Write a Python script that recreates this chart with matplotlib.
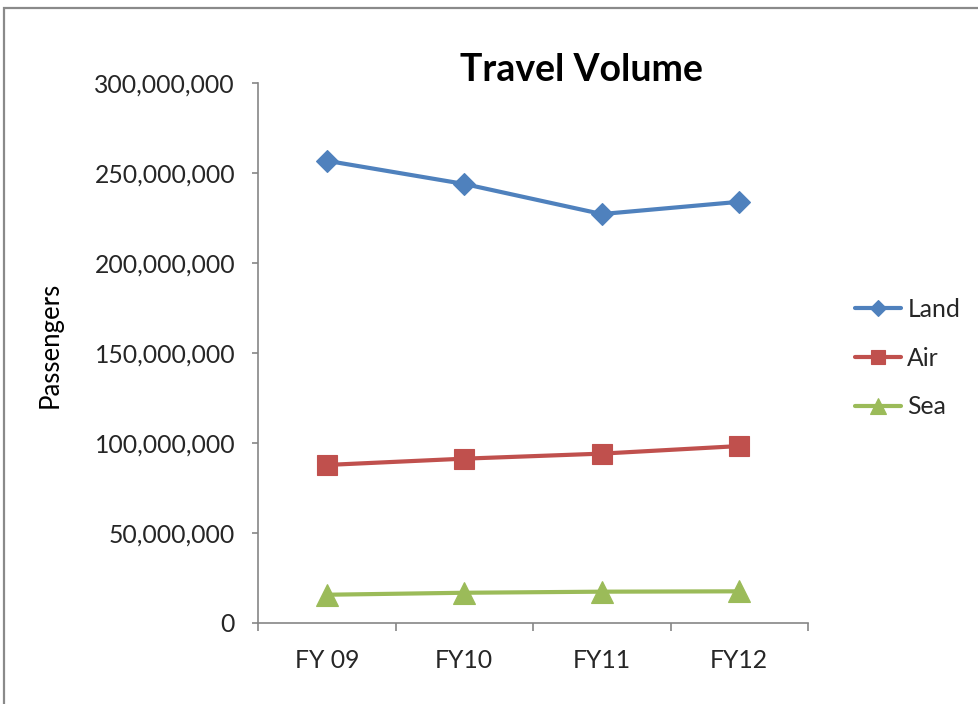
import matplotlib
matplotlib.use("Agg")
import matplotlib.pyplot as plt
from matplotlib.patches import Rectangle
from matplotlib.ticker import FuncFormatter, FixedLocator

plt.rcParams['font.family'] = ['Lato', 'DejaVu Sans']

# Passenger volumes by fiscal year
categories = ["FY 09", "FY10", "FY11", "FY12"]
land = [256_800_000, 243_900_000, 227_200_000, 234_000_000]
air = [87_800_000, 91_300_000, 94_100_000, 98_300_000]
sea = [15_700_000, 16_800_000, 17_400_000, 17_600_000]
series_names = ["Land", "Air", "Sea"]

W, H, DPI = 979, 704, 100
fig = plt.figure(figsize=(W / DPI, H / DPI), dpi=DPI)
fig.patch.set_facecolor("white")

# outer chart-area frame (right/bottom edges run off the canvas)
frame = Rectangle((4 / W, 0 - 20 / H), 1.1, (H - 8 + 20) / H,
                  transform=fig.transFigure, fill=False,
                  edgecolor="#8a8a8a", linewidth=1.6)
fig.patches.append(frame)

left, right, top, bottom = 258, 808, 83, 623
ax = fig.add_axes([left / W, 1 - bottom / H, (right - left) / W, (bottom - top) / H])

x = list(range(len(categories)))
styles = [
    (land, "#4F81BD", "D", 11),
    (air, "#C0504D", "s", 14.5),
    (sea, "#9BBB59", "^", 15.5),
]
for (vals, color, marker, ms), name in zip(styles, series_names):
    ax.plot(x, vals, color=color, linewidth=3.0, marker=marker, markersize=ms,
            markerfacecolor=color, markeredgecolor=color, markeredgewidth=0.8,
            label=name, solid_capstyle="round")

ax.set_xlim(-0.5, len(categories) - 0.5)
ax.set_ylim(0, 300_000_000)
ax.set_yticks(range(0, 300_000_001, 50_000_000))
ax.yaxis.set_major_formatter(FuncFormatter(lambda v, p: f"{v:,.0f}"))

ax.set_xticks(x)
ax.set_xticklabels(categories)
ax.xaxis.set_minor_locator(FixedLocator([i - 0.5 for i in range(len(categories) + 1)]))

axis_gray = "#868686"
text_color = "#262626"
fs = 17.8
for side in ("top", "right"):
    ax.spines[side].set_visible(False)
for side in ("left", "bottom"):
    ax.spines[side].set_color(axis_gray)
    ax.spines[side].set_linewidth(1.2)

ax.tick_params(axis="y", which="major", direction="out", length=4.5, width=1.2,
               color=axis_gray, pad=12, labelsize=fs, labelcolor=text_color)
ax.tick_params(axis="x", which="major", length=0, pad=19,
               labelsize=fs, labelcolor=text_color)
ax.tick_params(axis="x", which="minor", direction="out", length=6, width=1.2,
               color=axis_gray)

fig.text(50 / W, 1 - 345 / H, "Passengers", rotation=90, fontsize=18.5,
         ha="center", va="center", color="black")

fig.text(581 / W, 1 - 70 / H, "Travel Volume", fontsize=27, fontweight="bold",
         ha="center", va="center", color="black")

leg = ax.legend(loc="center left", bbox_to_anchor=(843 / W, 1 - 358 / H),
                bbox_transform=fig.transFigure, frameon=False,
                fontsize=fs, handlelength=1.85, handletextpad=0.25,
                labelspacing=1.05, markerscale=0.7, borderpad=0)
for t in leg.get_texts():
    t.set_color(text_color)

fig.savefig("out.png", dpi=DPI, facecolor="white")
